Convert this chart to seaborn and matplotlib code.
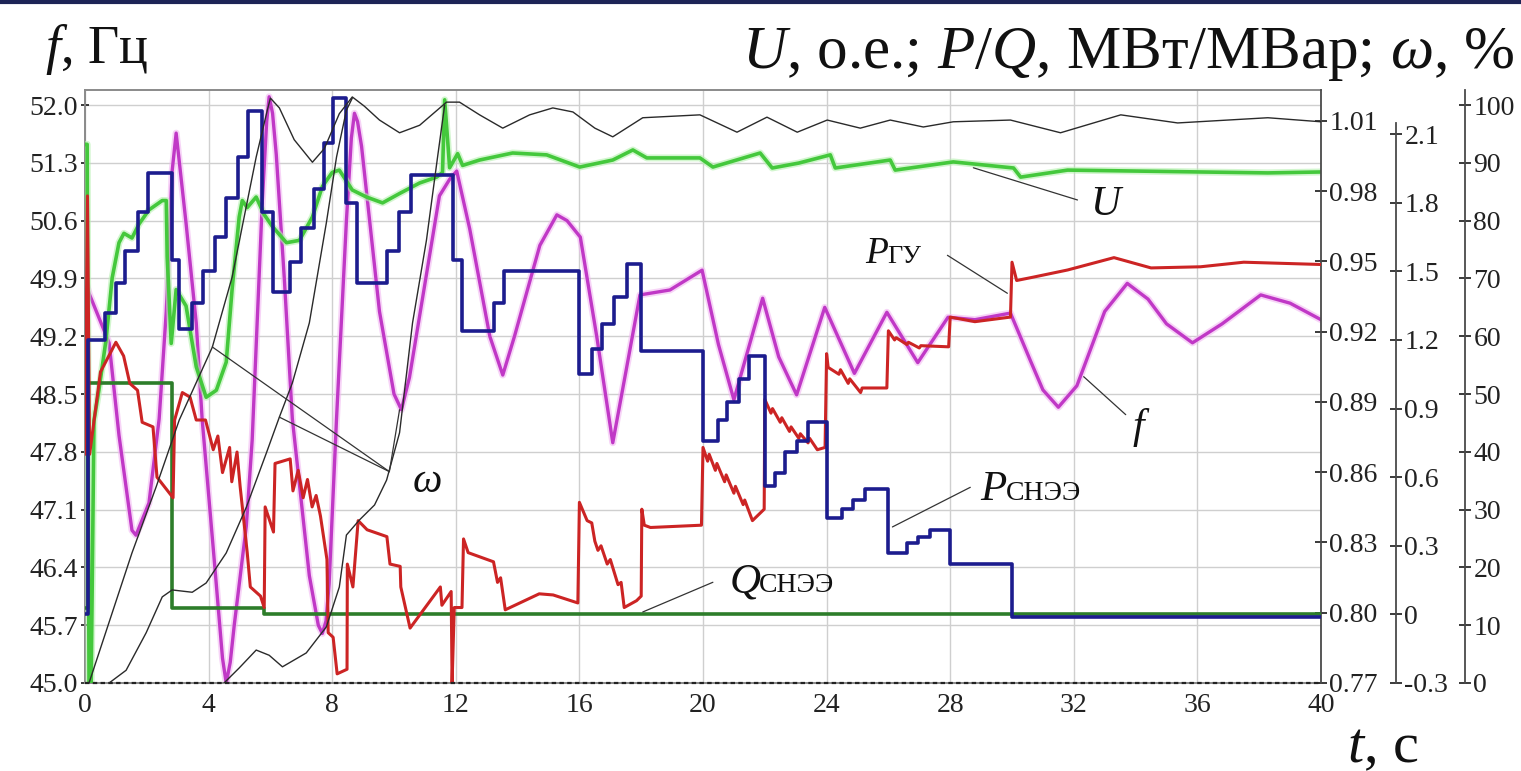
import numpy as np
import matplotlib
matplotlib.use("Agg")
import matplotlib.pyplot as plt
from matplotlib.lines import Line2D
import seaborn as sns

# ---------------- data ----------------
# frequency f, Hz (left axis)
f_t = [0.0, 0.13, 0.78, 1.1, 1.52, 1.65, 2.07, 2.4, 2.63, 2.82, 2.95, 3.27, 3.6, 3.79, 4.18, 4.45, 4.57, 4.7, 4.83, 5.22, 5.41, 5.74,
       5.88, 5.96, 6.07, 6.19, 6.45, 6.71, 7.26, 7.55, 7.68, 7.8, 7.9, 8.14, 8.46, 8.62, 8.72, 8.82, 8.95, 9.53, 10.0, 10.24, 10.5, 11.47, 11.8, 12.03, 12.45, 13.1,
       13.52, 13.9, 14.72, 15.27, 15.6, 16.03, 16.56, 17.08, 17.47, 17.96, 18.93, 19.97, 20.5, 21.0, 21.93, 22.45, 23.03, 23.94, 24.9, 25.95,
       26.95, 27.93, 28.8, 29.95, 30.6, 31.0, 31.5, 32.1, 33.0, 33.73, 34.4, 35.0, 35.84, 36.8, 38.05, 39.0, 40.0]
f_v = [49.9, 49.72, 49.12, 48.0, 46.85, 46.79, 47.18, 48.2, 49.5, 51.2, 51.66, 50.57, 49.36, 48.2, 46.5, 45.3, 45.0, 45.25, 45.7, 46.9, 47.94, 50.85,
       51.8, 52.1, 51.9, 51.4, 49.9, 48.2, 46.3, 45.7, 45.6, 45.75, 46.2, 48.2, 50.6, 51.6, 51.9, 51.8, 51.5, 49.5, 48.5, 48.31, 48.7, 50.9, 51.1, 51.2, 50.5, 49.2,
       48.73, 49.2, 50.3, 50.67, 50.6, 50.4, 49.2, 47.91, 48.7, 49.7, 49.76, 50.0, 49.1, 48.43, 49.66, 48.95, 48.49, 49.55, 48.75, 49.49,
       48.88, 49.43, 49.4, 49.48, 48.9, 48.55, 48.34, 48.6, 49.5, 49.84, 49.65, 49.35, 49.12, 49.35, 49.7, 49.6, 49.4]

# voltage U, p.u.
u_t = [0.0, 0.07, 0.13, 0.2, 0.29, 0.45, 0.68, 0.88, 1.1, 1.26, 1.52, 1.75, 2.07, 2.5, 2.63, 2.66, 2.79, 2.95, 3.27, 3.6,
       3.92, 4.25, 4.57, 4.76, 4.99, 5.09, 5.25, 5.54, 5.8, 6.06, 6.52, 6.94, 7.36, 7.68, 8.0, 8.23, 8.65, 9.11, 9.63, 10.18,
       10.83, 11.38, 11.57, 11.64, 11.8, 12.06, 12.22, 12.77, 13.84, 14.94, 16.01, 17.08, 17.73, 18.18, 19.9, 20.32, 21.85, 22.24, 23.1, 24.12,
       24.28, 26.06, 26.22, 28.1, 30.05, 30.28, 31.8, 36.1, 38.28, 40.0]
u_v = [1.000, 1.000, 0.77, 0.77, 0.882, 0.895, 0.9165, 0.943, 0.958, 0.962, 0.960, 0.966, 0.972, 0.976, 0.976, 0.952, 0.915, 0.938, 0.931, 0.905,
       0.892, 0.895, 0.907, 0.938, 0.969, 0.976, 0.973, 0.9775, 0.970, 0.965, 0.958, 0.959, 0.969, 0.982, 0.988, 0.989, 0.9805, 0.9775, 0.975, 0.979,
       0.9835, 0.986, 0.988, 1.019, 0.990, 0.996, 0.991, 0.9933, 0.9963, 0.9955, 0.9903, 0.9933, 0.9976, 0.9942, 0.9942, 0.9903, 0.9963, 0.9899, 0.992, 0.9955,
       0.9899, 0.9933, 0.989, 0.9925, 0.9899, 0.986, 0.989, 0.9882, 0.9878, 0.9882]

# storage active power P_SNEE, MW (step)
psn_t = [0.0, 0.1, 0.65, 1.0, 1.3, 1.72, 2.04, 2.8, 3.05, 3.45, 3.83, 4.22, 4.57, 4.96, 5.29, 5.72, 6.1, 6.65, 7.0, 7.4,
         7.72, 8.04, 8.45, 8.8, 9.76, 10.15, 10.54, 11.9, 12.2, 13.25, 13.56, 16.0, 16.41, 16.74, 17.13, 17.55, 18.0, 20.0, 20.47, 20.79,
         21.18, 21.5, 22.0, 22.32, 22.64, 23.03, 23.39, 24.0, 24.5, 24.85, 25.24, 26.0, 26.6, 26.95, 27.34, 28.0, 30.0, 40.0]
psn_v = [0.0, 1.20, 1.32, 1.45, 1.59, 1.76, 1.93, 1.55, 1.25, 1.36, 1.50, 1.65, 1.82, 2.00, 2.20, 1.76, 1.41, 1.54, 1.69, 1.86,
         2.06, 2.26, 1.80, 1.45, 1.59, 1.76, 1.92, 1.55, 1.24, 1.36, 1.50, 1.05, 1.16, 1.27, 1.39, 1.53, 1.15, 0.76, 0.85, 0.93,
         1.03, 1.13, 0.56, 0.62, 0.71, 0.76, 0.84, 0.42, 0.46, 0.50, 0.55, 0.27, 0.31, 0.34, 0.37, 0.22, -0.01, -0.01]

# storage reactive power Q_SNEE, MVAr (step)
qsn_t = [0.0, 0.1, 2.8, 5.8, 40.0]
qsn_v = [0.03, 1.01, 0.03, 0.0, 0.0]

# hydro unit power P_GU, MW
pgu_t = [0.0, 0.08, 0.15, 0.5, 1.0, 1.25, 1.45, 1.7, 1.85, 2.2, 2.33, 2.85, 2.9, 3.15, 3.4, 3.6, 3.9, 4.15, 4.3, 4.45,
         4.68, 4.75, 4.92, 5.02, 5.25, 5.35, 5.68, 5.8, 5.83, 6.0, 6.1, 6.15, 6.64, 6.73, 6.9, 7.06, 7.2, 7.35, 7.48, 7.62,
         7.83, 7.87, 8.03, 8.16, 8.48, 8.49, 8.67, 8.84, 9.13, 9.77, 9.87, 10.2, 10.22, 10.52, 11.5, 11.55, 11.85, 11.88, 11.95, 12.2,
         12.25, 12.4, 13.22, 13.35, 13.45, 13.6, 14.7, 15.15, 15.95, 16.0, 16.25, 16.4, 16.5, 16.6, 16.7, 16.9, 17.0, 17.25, 17.35, 17.45,
         17.85, 18.0, 18.02, 18.1, 18.3, 19.95, 20.0, 20.15, 20.2, 20.4, 20.45, 20.7, 20.75, 21.0, 21.05, 21.3, 21.35, 21.6, 21.98, 22.0,
         22.2, 22.25, 22.5, 22.55, 22.8, 22.85, 23.1, 23.15, 23.4, 23.45, 23.7, 23.95, 24.0, 24.05, 24.4, 24.45, 24.7, 24.75, 25.1, 25.15,
         25.95, 26.0, 26.2, 26.25, 26.6, 26.65, 27.0, 27.05, 27.95, 28.0, 28.8, 29.95, 30.0, 30.15, 30.7, 31.8, 33.3, 34.5, 36.1, 37.5,
         40.0]
pgu_v = [0.70, 1.83, 0.70, 1.06, 1.19, 1.13, 1.01, 0.98, 0.84, 0.82, 0.60, 0.51, 0.85, 0.97, 0.95, 0.85, 0.85, 0.72, 0.78, 0.62,
         0.73, 0.58, 0.71, 0.56, 0.27, 0.12, 0.08, 0.03, 0.47, 0.40, 0.36, 0.66, 0.68, 0.54, 0.63, 0.51, 0.59, 0.47, 0.52, 0.43,
         0.24, -0.08, -0.10, -0.26, -0.24, 0.22, 0.12, 0.41, 0.37, 0.34, 0.22, 0.21, 0.12, -0.06, 0.12, 0.04, 0.10, -0.30, 0.03, 0.03,
         0.33, 0.27, 0.23, 0.14, 0.16, 0.02, 0.09, 0.085, 0.05, 0.49, 0.41, 0.40, 0.32, 0.28, 0.30, 0.22, 0.24, 0.13, 0.14, 0.03,
         0.06, 0.08, 0.46, 0.39, 0.38, 0.39, 0.73, 0.67, 0.70, 0.63, 0.66, 0.58, 0.61, 0.53, 0.56, 0.48, 0.50, 0.41, 0.46, 0.94,
         0.88, 0.90, 0.84, 0.86, 0.80, 0.82, 0.77, 0.79, 0.75, 0.77, 0.72, 0.73, 1.14, 1.08, 1.05, 1.07, 1.01, 1.03, 0.97, 0.99,
         0.99, 1.24, 1.20, 1.21, 1.18, 1.19, 1.165, 1.175, 1.17, 1.30, 1.28, 1.30, 1.54, 1.46, 1.475, 1.506, 1.56, 1.515, 1.52, 1.54,
         1.53]

# rotor speeds omega, %
w1_t = [0.13, 1.52, 2.3, 3.05, 4.12, 4.76, 5.54, 5.9, 6.0, 6.29, 6.77, 7.36, 7.75, 8.23, 8.65, 9.04, 9.53, 10.18, 10.83, 11.7,
        12.12, 12.77, 13.52, 14.39, 15.14, 15.79, 16.5, 17.08, 18.05, 19.9, 21.1, 22.07, 23.05, 24.02, 25.09, 26.06, 27.13, 28.1, 29.95, 31.57,
        33.52, 35.36, 38.28, 40.0]
w1_v = [0, 22.5, 33.9, 45.5, 58.1, 70.2, 91.0, 99.1, 101.2, 99.5, 94.0, 90.1, 92.5, 98.5, 101.4, 99.8, 97.4, 95.2, 96.5, 100.5,
        100.5, 98.3, 96.0, 98.3, 99.5, 98.8, 96.0, 94.5, 97.8, 98.3, 95.3, 97.9, 95.3, 97.4, 96.0, 97.4, 96.2, 97.1, 97.4, 95.2,
        98.3, 96.9, 97.8, 97.1]
w2_t = [0.78, 1.33, 1.98, 2.5, 2.82, 3.47, 3.92, 4.57, 5.22, 5.87, 6.29, 6.71, 7.26, 7.81, 8.14, 8.46, 8.65]
w2_v = [0, 2.2, 8.7, 14.9, 16.1, 15.7, 17.3, 22.5, 30.4, 39.8, 46.0, 51.9, 62.3, 79.6, 91.0, 99.1, 101.2]
w3_t = [4.5, 4.99, 5.54, 5.96, 6.39, 7.16, 7.81, 8.23, 8.46, 8.88, 9.37, 9.76, 10.18, 10.6, 11.05, 11.41, 11.64]
w3_v = [0, 2.6, 5.7, 4.8, 2.8, 5.2, 9.7, 16.6, 25.6, 28.2, 30.8, 35.1, 43.3, 62.3, 76.6, 91.0, 100.0]
w0_t = [0.0, 40.0]
w0_v = [0.0, 0.0]

# ticks
t_ticks = list(range(0, 41, 4))
f_ticks = [45.0, 45.7, 46.4, 47.1, 47.8, 48.5, 49.2, 49.9, 50.6, 51.3, 52.0]
u_ticks = [0.77, 0.80, 0.83, 0.86, 0.89, 0.92, 0.95, 0.98, 1.01]
pq_ticks = [-0.3, 0.0, 0.3, 0.6, 0.9, 1.2, 1.5, 1.8, 2.1]
pq_labels = ["-0.3", "0", "0.3", "0.6", "0.9", "1.2", "1.5", "1.8", "2.1"]
w_ticks = [0, 10, 20, 30, 40, 50, 60, 70, 80, 90, 100]

# ---------------- style ----------------
sns.set_theme(style="white")
SERIF = ["Liberation Serif", "DejaVu Serif"]
plt.rcParams["font.family"] = SERIF
plt.rcParams["mathtext.fontset"] = "custom"
plt.rcParams["mathtext.rm"] = "Liberation Serif"
plt.rcParams["mathtext.it"] = "Liberation Serif:italic"

W, H = 1521, 771
fig = plt.figure(figsize=(W / 100, H / 100), dpi=100)
fig.patch.set_facecolor("white")
ax = fig.add_axes([85 / W, (H - 683) / H, 1236 / W, 593 / H])
ax_u = ax.twinx()
ax_p = ax.twinx()
ax_w = ax.twinx()


def line(axis, t, v, **kw):
    sns.lineplot(x=t, y=v, ax=axis, estimator=None, sort=False, legend=False, **kw)


# magenta frequency
line(ax, f_t, f_v, color="#f2b8f2", linewidth=5.0, alpha=0.6)
line(ax, f_t, f_v, color="#c038c6", linewidth=2.4)
# omega curves
line(ax_w, w0_t, w0_v, color="#222222", linewidth=1.6, linestyle=(0, (2, 1.5)), clip_on=False)
line(ax_w, w1_t, w1_v, color="#2a2a2a", linewidth=1.0)
line(ax_w, w2_t, w2_v, color="#2a2a2a", linewidth=1.0)
line(ax_w, w3_t, w3_v, color="#2a2a2a", linewidth=1.0)
# voltage
line(ax_u, u_t, u_v, color="#b4f0ae", linewidth=5.0, alpha=0.6)
line(ax_u, u_t, u_v, color="#44c83c", linewidth=2.6)
# powers
line(ax_p, qsn_t, qsn_v, color="#2d7d2a", linewidth=2.6, drawstyle="steps-post")
line(ax_p, pgu_t, pgu_v, color="#cc2424", linewidth=2.2)
line(ax_p, psn_t, psn_v, color="#1c1c8e", linewidth=2.6, drawstyle="steps-post")

# ---------------- axes ----------------
ax.set_xlim(0, 40)
ax.set_ylim(45.0, 52.182)
ax_u.set_ylim(0.77, 1.0232)
ax_p.set_ylim(-0.3, 2.293)
ax_w.set_ylim(0, 102.6)

ax.set_xticks(t_ticks)
ax.set_xticklabels([str(v) for v in t_ticks])
ax.set_yticks(f_ticks)
ax.set_yticklabels([f"{v:.1f}" for v in f_ticks])
ax_u.set_yticks(u_ticks)
ax_u.set_yticklabels([f"{v:.2f}" for v in u_ticks])
ax_p.set_yticks(pq_ticks)
ax_p.set_yticklabels(pq_labels)
ax_w.set_yticks(w_ticks)
ax_w.set_yticklabels([str(v) for v in w_ticks])
for a in (ax, ax_u, ax_p, ax_w):
    a.set_xlabel("")
    a.set_ylabel("")

ax.grid(True, color="#cfcfcf", linewidth=1.0)
ax.set_axisbelow(True)
for s in ("top", "left", "bottom"):
    ax.spines[s].set_color("#8a8a8a")
    ax.spines[s].set_linewidth(1.4)
ax.spines["right"].set_visible(False)
ax.tick_params(axis="y", direction="inout", length=6, labelsize=20, pad=2, colors="#222222")
ax.tick_params(axis="x", direction="inout", length=6, labelsize=20, pad=4, colors="#222222")

for a in (ax_u, ax_p, ax_w):
    for s in ("top", "left", "bottom"):
        a.spines[s].set_visible(False)
    a.spines["right"].set_color("#4a4a4a")
    a.spines["right"].set_linewidth(1.3)
    a.tick_params(axis="y", direction="inout", length=8, labelsize=20, pad=2, colors="#222222")
ax_p.spines["right"].set_position(("axes", 1.0607))
ax_p.spines["right"].set_bounds(-0.3, 2.15)
ax_w.spines["right"].set_position(("axes", 1.1165))

for a in (ax, ax_u, ax_p, ax_w):
    for lbl in a.get_xticklabels() + a.get_yticklabels():
        lbl.set_fontfamily(SERIF)

# ---------------- annotations ----------------
def leader(p_from, p_to):
    ax_w.annotate("", xy=p_to, xycoords=ax.transData, xytext=p_from, textcoords=ax.transData,
                  arrowprops=dict(arrowstyle="-", color="#333333", lw=0.9, shrinkA=0, shrinkB=0))


def label(main, sub, t, f, size=30, sub_dx=20, sub_size=19):
    ax_w.text(t, f, main, transform=ax.transData, fontsize=size, fontstyle="italic",
              ha="left", va="baseline", color="#111111")
    if sub:
        ax_w.annotate(sub, xy=(t, f), xycoords=ax.transData, xytext=(sub_dx, 0),
                      textcoords="offset points", fontsize=sub_size, ha="left", va="baseline", color="#111111")


label("U", None, 32.54, 50.67)
leader((32.12, 50.85), (28.75, 51.24))
label("P", "ГУ", 25.25, 50.09, size=27, sub_dx=16, sub_size=19)
leader((27.91, 50.18), (29.85, 49.72))
label("f", None, 33.9, 47.97)
leader((33.68, 48.25), (32.32, 48.71))
label("P", "СНЭЭ", 28.98, 47.22, size=31, sub_dx=18, sub_size=20)
leader((28.65, 47.37), (26.13, 46.89))
label("Q", "СНЭЭ", 20.87, 46.1, size=31, sub_dx=21, sub_size=20)
leader((20.32, 46.22), (18.05, 45.86))
label("ω", None, 10.6, 47.31, size=30)
for tgt in [(4.12, 49.07), (6.29, 48.22), (10.18, 48.31)]:
    leader((9.85, 47.56), tgt)

# ---------------- titles ----------------
fig.text(45 / W, 1 - 63 / H, "$f$, Гц", fontsize=39, ha="left", va="baseline", color="#111111")
fig.text(1515 / W, 1 - 68 / H, "$U$, о.е.; $P/Q$, МВт/МВар; $ω$, %", fontsize=44,
         ha="right", va="baseline", color="#111111")
fig.text(1347 / W, 1 - 762 / H, "$t$, с", fontsize=42, ha="left", va="baseline", color="#111111")

fig.add_artist(Line2D([0, 1], [0.998, 0.998], transform=fig.transFigure, color="#1d2456", lw=3))

fig.savefig("out.png", dpi=100, facecolor="white")
